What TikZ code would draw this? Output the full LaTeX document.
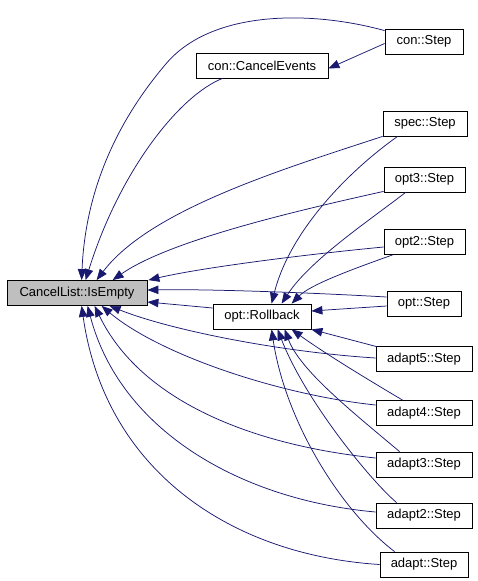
\documentclass[tikz,border=0pt]{standalone}
\usepackage{fontspec}
\setmainfont{Liberation Sans}
\usetikzlibrary{arrows.meta,calc}
\definecolor{edgeblue}{HTML}{191970}
\definecolor{hlgray}{HTML}{BFBFBF}
\begin{document}
\begin{tikzpicture}[x=1pt,y=-1pt,
  box/.style={draw=black,line width=0.8pt,fill=white,inner sep=0pt,
    font=\fontsize{13}{15}\selectfont,minimum height=25pt},
  call/.style={draw=edgeblue,line width=0.75pt,
    -{Triangle[length=11pt,width=8.5pt]}}]
\useasboundingbox (0,0) rectangle (477,581);

\node[box,fill=hlgray,minimum width=140pt] (isempty) at (77,293) {CancelList::IsEmpty};
\node[box,minimum width=132pt] (cancelev) at (262,65.5) {con::CancelEvents};
\node[box,minimum width=78pt] (constep) at (424,41.5) {con::Step};
\node[box,minimum width=84pt] (specstep) at (425,123.5) {spec::Step};
\node[box,minimum width=81pt] (optthree) at (424.5,179.5) {opt3::Step};
\node[box,minimum width=81pt] (opttwo) at (424.5,242) {opt2::Step};
\node[box,minimum width=74pt] (optstep) at (424,303.5) {opt::Step};
\node[box,minimum width=98pt] (rollback) at (262,316.5) {opt::Rollback};
\node[box,minimum width=96pt] (adfive) at (424,359) {adapt5::Step};
\node[box,minimum width=96pt] (adfour) at (424,413) {adapt4::Step};
\node[box,minimum width=96pt] (adthree) at (424,464.5) {adapt3::Step};
\node[box,minimum width=96pt] (adtwo) at (424,515.5) {adapt2::Step};
\node[box,minimum width=88pt] (adone) at (424,564.5) {adapt::Step};

% calls into IsEmpty
\draw[call] ($(constep.north west)+(0,2)$) .. controls (310,10) and (210,10) .. (165,65)
  .. controls (110,130) and (85,200) .. ($(isempty.north west)+(75,0)$);
\draw[call] ($(cancelev.south west)+(27,0)$) .. controls (180,95) and (120,170) .. ($(isempty.north west)+(79,0)$);
\draw[call] (specstep.south west) .. controls (280,170) and (150,210) .. ($(isempty.north west)+(90,0)$);
\draw[call] ($(optthree.south west)+(0,-1)$) .. controls (300,210) and (170,240) .. ($(isempty.north west)+(106,0)$);
\draw[call] ($(opttwo.west)+(0,5)$) .. controls (300,255) and (200,268) .. ($(isempty.north east)+(1,0)$);
\draw[call] ($(optstep.west)+(0,-6.5)$) .. controls (300,292) and (200,289) .. ($(isempty.east)+(0,-3)$);
\draw[call] ($(rollback.west)+(0,-8.5)$) -- ($(isempty.east)+(0,9)$);
\draw[call] ($(adfive.west)+(0,-1)$) .. controls (280,352) and (170,330) .. ($(isempty.south west)+(103,0)$);
\draw[call] ($(adfour.west)+(0,-8)$) .. controls (280,395) and (160,355) .. ($(isempty.south west)+(95,0)$);
\draw[call] ($(adthree.west)+(0,-6.5)$) .. controls (250,445) and (140,400) .. ($(isempty.south west)+(88,0)$);
\draw[call] ($(adtwo.west)+(0,-3.5)$) .. controls (240,500) and (120,430) .. ($(isempty.south west)+(81,0)$);
\draw[call] (adone.west) .. controls (230,555) and (105,470) .. ($(isempty.south west)+(75,0)$);

% con::Step -> con::CancelEvents
\draw[call] ($(constep.west)+(0,2)$) -- ($(cancelev.east)+(0,3)$);

% calls into opt::Rollback
\draw[call] ($(specstep.south west)+(15,0)$) .. controls (350,170) and (290,230) .. ($(rollback.north west)+(59,0)$);
\draw[call] ($(optthree.south west)+(22,0)$) .. controls (370,220) and (310,260) .. ($(rollback.north west)+(69,0)$);
\draw[call] ($(opttwo.south west)+(9,0)$) .. controls (350,270) and (310,285) .. ($(rollback.north west)+(79,0)$);
\draw[call] ($(optstep.west)+(0,2.5)$) -- ($(rollback.east)+(0,-5.5)$);
\draw[call] ($(adfive.north west)+(1,0.5)$) -- (rollback.south east);
\draw[call] ($(adfour.north west)+(27,0)$) .. controls (360,375) and (320,350) .. ($(rollback.south west)+(79,0)$);
\draw[call] ($(adthree.north west)+(24,0)$) .. controls (350,410) and (300,370) .. ($(rollback.south west)+(72,0)$);
\draw[call] ($(adtwo.north west)+(21,0)$) .. controls (370,480) and (305,400) .. ($(rollback.south west)+(65,0)$);
\draw[call] ($(adone.north west)+(15,0)$) .. controls (340,510) and (285,420) .. ($(rollback.south west)+(59,0)$);
\end{tikzpicture}
\end{document}
